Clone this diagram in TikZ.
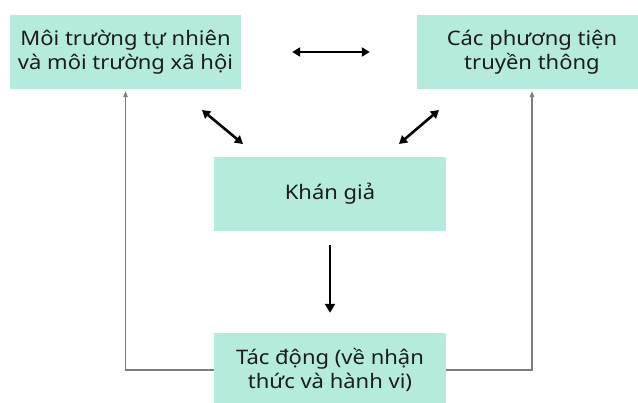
\documentclass[tikz,border=0pt]{standalone}
\usepackage{fontspec}
\setmainfont{Noto Sans}[FakeStretch=1.1]
\usetikzlibrary{arrows.meta}
\definecolor{mint}{RGB}{181,235,220}
\definecolor{txt}{RGB}{28,28,28}
\definecolor{feedgray}{RGB}{125,125,125}
\begin{document}
\begin{tikzpicture}[x=1pt, y=-1pt,
  box/.style={fill=mint, draw=none, align=center, text=txt, inner sep=0pt,
    minimum height=74pt, font=\fontsize{20}{24}\selectfont},
  twoway/.style={line width=2.6pt, {Triangle[length=8pt,width=9pt]}-{Triangle[length=8pt,width=9pt]}},
  oneway/.style={line width=2.8pt, -{Triangle[length=9pt,width=10pt]}},
  feedback/.style={draw=feedgray, line width=1.1pt, -{Triangle[length=6pt,width=4.5pt]}, shorten >=2pt}]
\useasboundingbox (0,0) rectangle (638,403);

% boxes
\node[box, minimum width=231pt] (env) at (125.5,52) {Môi trường tự nhiên\\và môi trường xã hội};
\node[box, minimum width=230pt] (media) at (532,52) {Các phương tiện\\truyền thông};
\node[box, minimum width=232pt] (aud) at (330,194) {Khán giả};
\node[box, minimum width=232pt] (eff) at (330,370) {Tác động (về nhận\\thức và hành vi)};

% free ends of the diagonal arrows
\coordinate (dl1) at (202,110);
\coordinate (dl2) at (243,144);
\coordinate (dr1) at (439,110);
\coordinate (dr2) at (399,144);

% interactions
\draw[twoway, shorten <=51pt, shorten >=47pt] (env.east) -- (media.west);
\draw[twoway] (dl1) -- (dl2);
\draw[twoway] (dr1) -- (dr2);
\draw[oneway, shorten <=14pt, shorten >=20pt] (aud.south) -- (eff.north);

% feedback loops
\draw[feedback] (eff.west) -| (env.south);
\draw[feedback] (eff.east) -| (media.south);
\end{tikzpicture}
\end{document}
